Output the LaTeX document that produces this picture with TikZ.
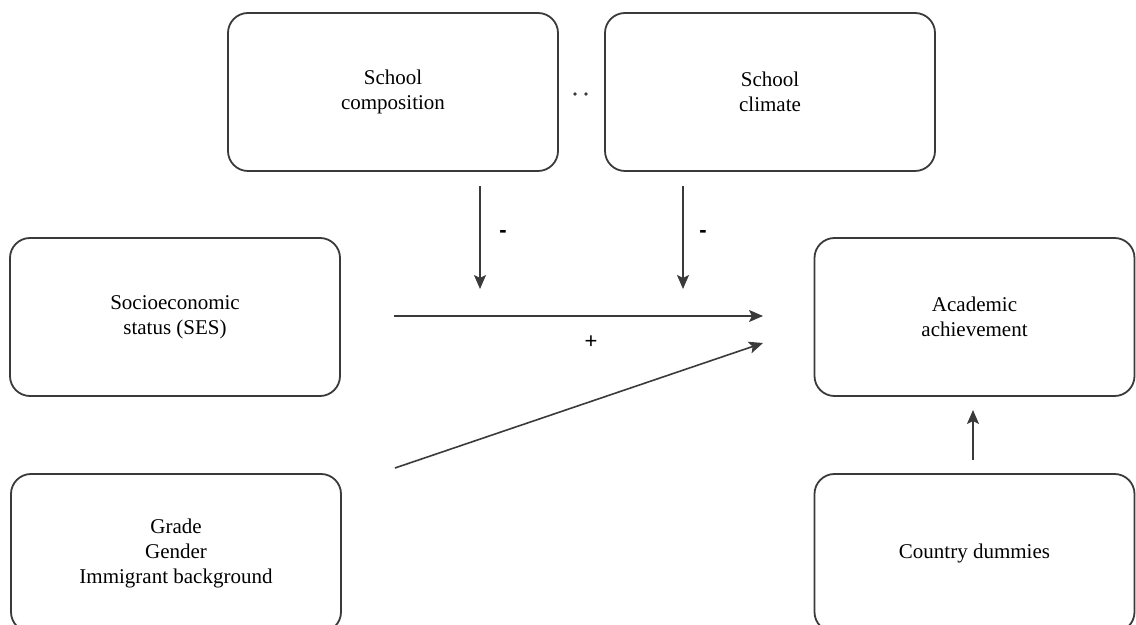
\documentclass[tikz,border=0pt]{standalone}
\usepackage{fontspec}
\setmainfont{Liberation Serif}
\newfontfamily\labelfont{Liberation Sans}
\usetikzlibrary{arrows.meta}
\definecolor{linec}{HTML}{3A3A3A}
\begin{document}
\begin{tikzpicture}[x=0.5pt,y=-0.5pt,
  box/.style={draw=linec, line width=0.9pt, rounded corners=10pt,
    minimum width=165pt, minimum height=79pt, align=center,
    font=\fontsize{10.5}{12.5}\selectfont, inner sep=0pt},
  conn/.style={draw=linec, line width=0.8pt, -{Stealth[length=7pt,width=6pt,inset=1.5pt]}},
  sign/.style={font=\labelfont\fontsize{11}{12}\selectfont, inner sep=0pt}]
\useasboundingbox (0,0) rectangle (1136,625);
\clip (0,0) rectangle (1136,625);
\node[box] (comp) at (393,92) {School\\composition};
\node[box] (clim) at (770,92) {School\\climate};
\node[box] (ses) at (175,317) {Socioeconomic\\status (SES)};
\node[box, minimum width=160pt] (ach) at (974.5,317) {Academic\\achievement};
\node[box] (grade) at (176,553) {Grade\\Gender\\Immigrant background};
\node[box, minimum width=160pt] (ctry) at (974.5,553) {Country dummies};
% dots between top boxes
\fill[linec] (575,94) circle (1.9);
\fill[linec] (586,94) circle (1.9);
% named free ends
\coordinate (c1s) at (480,186);
\coordinate (c1e) at (480,289);
\coordinate (c2s) at (683,186);
\coordinate (c2e) at (683,289);
\coordinate (hs) at (394,316);
\coordinate (he) at (763,316);
\coordinate (ds) at (395,468);
\coordinate (de) at (763,343);
\coordinate (us) at (973,460);
\coordinate (ue) at (973,410);
\draw[conn] (c1s) -- (c1e);
\draw[conn] (c2s) -- (c2e);
\draw[conn] (hs) -- (he);
\draw[conn] (ds) -- (de);
\draw[conn] (us) -- (ue);
\node[sign] (m1) at (503,234) {\textbf{-}};
\node[sign] (m2) at (703,234) {\textbf{-}};
\node[sign] (p1) at (591,342) {+};
\end{tikzpicture}
\end{document}
